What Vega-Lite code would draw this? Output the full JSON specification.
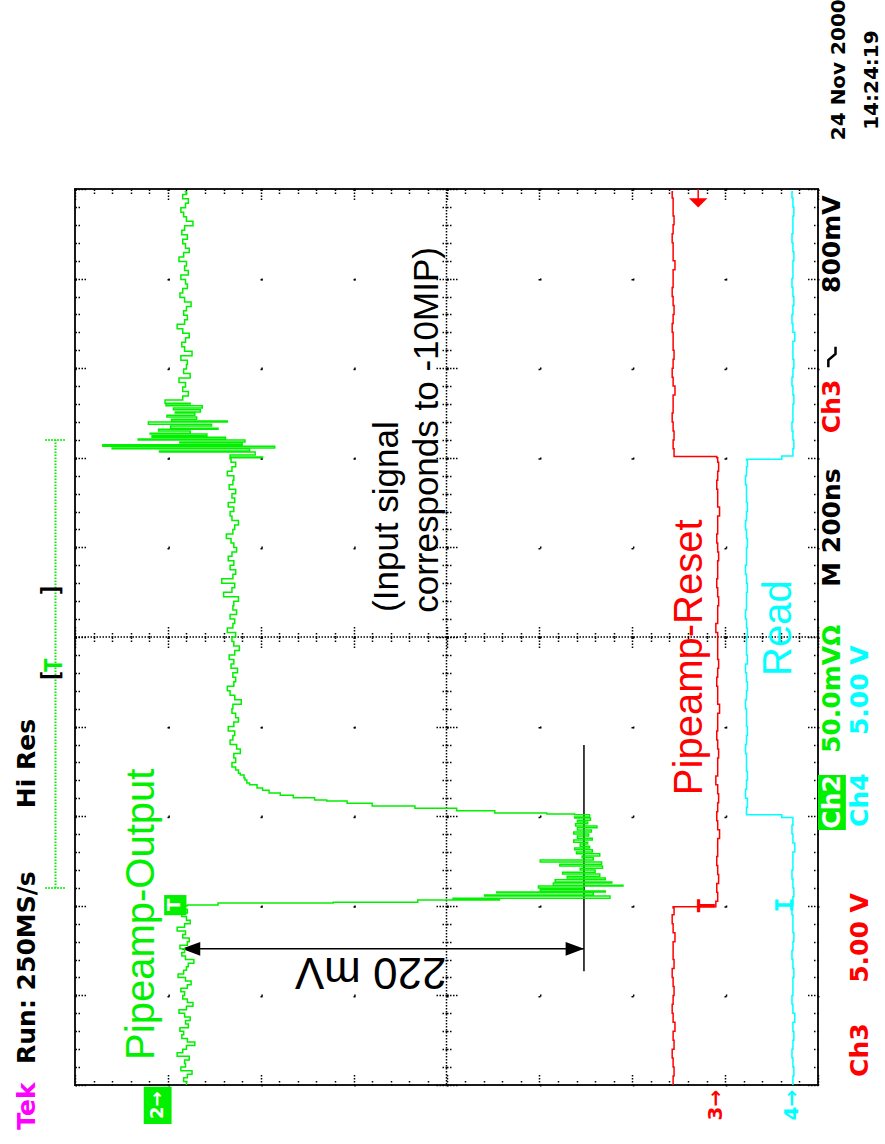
{
  "$schema": "https://vega.github.io/schema/vega-lite/v6.json",
  "description": "Oscilloscope capture (rotated): Pipeamp-Output (Ch2), Pipeamp-Reset (Ch3) and Read (Ch4). Vertical position in scope divisions, time in ns (200 ns/div).",
  "autosize": "none",
  "width": 743,
  "height": 896,
  "padding": {"left": 75, "top": 189, "right": 67, "bottom": 59},
  "background": "white",
  "view": {"stroke": "#1a1a1a", "strokeWidth": 2},
  "config": {"axis": {"labels": false, "title": null, "domain": false}},
  "resolve": {"axis": {"x": "independent", "y": "independent"}},
  "layer": [
    {
      "data": {"values": [{}]},
      "mark": {"type": "rule", "color": "#000", "strokeWidth": 1.5, "strokeDash": [1.5, 1.5]},
      "encoding": {
        "x": {"datum": 0, "type": "quantitative", "scale": {"domain": [4, -4], "nice": false, "zero": false}, "axis": null}
      }
    },
    {
      "data": {"values": [{}]},
      "mark": {"type": "rule", "color": "#000", "strokeWidth": 1.5, "strokeDash": [1.5, 1.5]},
      "encoding": {
        "y": {"datum": 1000, "type": "quantitative", "scale": {"domain": [0, 2000], "nice": false, "zero": false}, "axis": null}
      }
    },
    {
      "data": {"values": [
        {"div": 4.21, "div2": 4.21, "ns": 440, "ns2": 1440},
        {"div": 4.32, "div2": 4.10, "ns": 440, "ns2": 440},
        {"div": 4.32, "div2": 4.10, "ns": 1440, "ns2": 1440}
      ]},
      "mark": {"type": "rule", "color": "#00f000", "strokeWidth": 2, "strokeDash": [1.5, 1.5]},
      "encoding": {
        "x": {"field": "div", "type": "quantitative", "scale": {"domain": [4, -4], "nice": false, "zero": false},
          "axis": {"orient": "bottom", "offset": -448, "grid": false,
            "values": [-4,-3.8,-3.6,-3.4,-3.2,-3,-2.8,-2.6,-2.4,-2.2,-2,-1.8,-1.6,-1.4,-1.2,-1,-0.8,-0.6,-0.4,-0.2,0,0.2,0.4,0.6,0.8,1,1.2,1.4,1.6,1.8,2,2.2,2.4,2.6,2.8,3,3.2,3.4,3.6,3.8,4],
            "tickColor": "#000", "tickWidth": 1.5, "tickDash": [1.5, 1.5],
            "tickSize": {"condition": {"test": "abs(datum.value - round(datum.value)) < 0.01", "value": 12}, "value": 5}}},
        "x2": {"field": "div2"},
        "y": {"field": "ns", "type": "quantitative", "scale": {"domain": [0, 2000], "nice": false, "zero": false},
          "axis": {"orient": "left", "offset": -371.5, "grid": false,
            "values": [0,40,80,120,160,200,240,280,320,360,400,440,480,520,560,600,640,680,720,760,800,840,880,920,960,1000,1040,1080,1120,1160,1200,1240,1280,1320,1360,1400,1440,1480,1520,1560,1600,1640,1680,1720,1760,1800,1840,1880,1920,1960,2000],
            "tickColor": "#000", "tickWidth": 1.5, "tickDash": [1.5, 1.5],
            "tickSize": {"condition": {"test": "datum.value % 200 === 0", "value": 12}, "value": 5}}},
        "y2": {"field": "ns2"}
      }
    },
    {
      "data": {"values": [
        {"channel": "scope", "div": 2.85, "div2": -1.48, "ns": 304, "ns2": 304},
        {"channel": "scope", "div": -1.48, "div2": -1.48, "ns": 254, "ns2": 759},
        {"channel": "Ch3", "div": -2.71, "div2": -2.71, "ns": 1975, "ns2": 2000}
      ]},
      "mark": {"type": "rule", "strokeWidth": 1.5},
      "encoding": {
        "x": {"field": "div", "type": "quantitative", "scale": {"domain": [4, -4], "nice": false, "zero": false},
          "axis": {"orient": "top", "grid": false,
            "values": [-4,-3.8,-3.6,-3.4,-3.2,-3,-2.8,-2.6,-2.4,-2.2,-2,-1.8,-1.6,-1.4,-1.2,-1,-0.8,-0.6,-0.4,-0.2,0,0.2,0.4,0.6,0.8,1,1.2,1.4,1.6,1.8,2,2.2,2.4,2.6,2.8,3,3.2,3.4,3.6,3.8,4],
            "tickColor": "#000", "tickWidth": 1.5, "tickDash": [1.5, 1.5],
            "tickSize": {"condition": {"test": "abs(datum.value - round(datum.value)) < 0.01", "value": -11}, "value": -6}}},
        "x2": {"field": "div2"},
        "y": {"field": "ns", "type": "quantitative", "scale": {"domain": [0, 2000], "nice": false, "zero": false},
          "axis": {"orient": "right", "grid": false,
            "values": [0,40,80,120,160,200,240,280,320,360,400,440,480,520,560,600,640,680,720,760,800,840,880,920,960,1000,1040,1080,1120,1160,1200,1240,1280,1320,1360,1400,1440,1480,1520,1560,1600,1640,1680,1720,1760,1800,1840,1880,1920,1960,2000],
            "tickColor": "#000", "tickWidth": 1.5, "tickDash": [1.5, 1.5],
            "tickSize": {"condition": {"test": "datum.value % 200 === 0", "value": -11}, "value": -6}}},
        "y2": {"field": "ns2"},
        "color": {"field": "channel", "type": "nominal", "legend": null,
          "scale": {"domain": ["Ch2", "Ch3", "Ch4", "brand", "scope"], "range": ["#00f000", "#ff0000", "#00ffff", "#ff00ff", "#000000"]}}
      }
    },
    {
      "data": {"values": [
        {"end": "left", "channel": "scope", "div": 2.751, "ns": 304},
        {"end": "right", "channel": "scope", "div": -1.382, "ns": 304},
        {"end": "down", "channel": "Ch3", "div": -2.71, "ns": 1969}
      ]},
      "mark": {"type": "point", "filled": true, "opacity": 1, "size": 340},
      "encoding": {
        "x": {"field": "div", "type": "quantitative", "scale": {"domain": [4, -4], "nice": false, "zero": false},
          "axis": {"orient": "top", "offset": -448, "grid": false,
            "values": [-4,-3.8,-3.6,-3.4,-3.2,-3,-2.8,-2.6,-2.4,-2.2,-2,-1.8,-1.6,-1.4,-1.2,-1,-0.8,-0.6,-0.4,-0.2,0,0.2,0.4,0.6,0.8,1,1.2,1.4,1.6,1.8,2,2.2,2.4,2.6,2.8,3,3.2,3.4,3.6,3.8,4],
            "tickColor": "#000", "tickWidth": 1.5, "tickDash": [1.5, 1.5],
            "tickSize": {"condition": {"test": "abs(datum.value - round(datum.value)) < 0.01", "value": 12}, "value": 5}}},
        "y": {"field": "ns", "type": "quantitative", "scale": {"domain": [0, 2000], "nice": false, "zero": false},
          "axis": {"orient": "right", "offset": -371.5, "grid": false,
            "values": [0,40,80,120,160,200,240,280,320,360,400,440,480,520,560,600,640,680,720,760,800,840,880,920,960,1000,1040,1080,1120,1160,1200,1240,1280,1320,1360,1400,1440,1480,1520,1560,1600,1640,1680,1720,1760,1800,1840,1880,1920,1960,2000],
            "tickColor": "#000", "tickWidth": 1.5, "tickDash": [1.5, 1.5],
            "tickSize": {"condition": {"test": "datum.value % 200 === 0", "value": 12}, "value": 5}}},
        "shape": {"field": "end", "type": "nominal", "legend": null,
          "scale": {"domain": ["left", "right", "down"], "range": ["M1,-0.75L-1,0L1,0.75Z", "M-1,-0.75L1,0L-1,0.75Z", "M-1,-0.5L1,-0.5L0,0.5Z"]}},
        "color": {"field": "channel", "type": "nominal", "legend": null,
          "scale": {"domain": ["Ch2", "Ch3", "Ch4", "brand", "scope"], "range": ["#00f000", "#ff0000", "#00ffff", "#ff00ff", "#000000"]}}
      }
    },
    {
      "data": {"values": [
        {"readout": "trigger slope (falling)", "div": -4.15, "ns": 1625}
      ]},
      "mark": {"type": "point", "filled": false, "opacity": 1, "size": 420, "stroke": "#000", "strokeWidth": 2.5,
        "shape": "M-0.35,1L-0.35,0.3L0.35,-0.3L0.35,-1"},
      "encoding": {
        "x": {"field": "div", "type": "quantitative", "scale": {"domain": [4, -4], "nice": false, "zero": false}, "axis": null},
        "y": {"field": "ns", "type": "quantitative", "scale": {"domain": [0, 2000], "nice": false, "zero": false}, "axis": null}
      }
    },
    {
      "data": {"values": [
        {"channel": "Ch2", "div": -4.0, "div2": -4.3, "ns": 569, "ns2": 692},
        {"channel": "Ch2", "div": 3.26, "div2": 2.96, "ns": -87, "ns2": -4},
        {"channel": "Ch2", "div": 3.04, "div2": 2.80, "ns": 379, "ns2": 424}
      ]},
      "mark": {"type": "rect"},
      "encoding": {
        "x": {"field": "div", "type": "quantitative", "scale": {"domain": [4, -4], "nice": false, "zero": false}, "axis": null},
        "x2": {"field": "div2"},
        "y": {"field": "ns", "type": "quantitative", "scale": {"domain": [0, 2000], "nice": false, "zero": false}, "axis": null},
        "y2": {"field": "ns2"},
        "color": {"field": "channel", "type": "nominal", "legend": null,
          "scale": {"domain": ["Ch2", "Ch3", "Ch4", "brand", "scope"], "range": ["#00f000", "#ff0000", "#00ffff", "#ff00ff", "#000000"]}}
      }
    },
    {
      "data": {"values": [
        {"channel":"Ch2","ns":0,"div":2.80},{"channel":"Ch2","ns":8,"div":2.83},{"channel":"Ch2","ns":16,"div":2.79},{"channel":"Ch2","ns":24,"div":2.74},
        {"channel":"Ch2","ns":32,"div":2.86},{"channel":"Ch2","ns":40,"div":2.81},{"channel":"Ch2","ns":48,"div":2.82},{"channel":"Ch2","ns":56,"div":2.77},
        {"channel":"Ch2","ns":64,"div":2.90},{"channel":"Ch2","ns":72,"div":2.84},{"channel":"Ch2","ns":80,"div":2.80},{"channel":"Ch2","ns":88,"div":2.71},
        {"channel":"Ch2","ns":96,"div":2.79},{"channel":"Ch2","ns":104,"div":2.85},{"channel":"Ch2","ns":112,"div":2.83},{"channel":"Ch2","ns":120,"div":2.87},
        {"channel":"Ch2","ns":128,"div":2.78},{"channel":"Ch2","ns":136,"div":2.81},{"channel":"Ch2","ns":144,"div":2.76},{"channel":"Ch2","ns":152,"div":2.82},
        {"channel":"Ch2","ns":160,"div":2.88},{"channel":"Ch2","ns":168,"div":2.80},{"channel":"Ch2","ns":176,"div":2.73},{"channel":"Ch2","ns":184,"div":2.79},
        {"channel":"Ch2","ns":192,"div":2.84},{"channel":"Ch2","ns":200,"div":2.82},{"channel":"Ch2","ns":208,"div":2.86},{"channel":"Ch2","ns":216,"div":2.79},
        {"channel":"Ch2","ns":224,"div":2.75},{"channel":"Ch2","ns":232,"div":2.81},{"channel":"Ch2","ns":240,"div":2.89},{"channel":"Ch2","ns":248,"div":2.83},
        {"channel":"Ch2","ns":256,"div":2.80},{"channel":"Ch2","ns":264,"div":2.78},{"channel":"Ch2","ns":272,"div":2.72},{"channel":"Ch2","ns":280,"div":2.81},
        {"channel":"Ch2","ns":288,"div":2.85},{"channel":"Ch2","ns":296,"div":2.82},{"channel":"Ch2","ns":304,"div":2.87},{"channel":"Ch2","ns":312,"div":2.79},
        {"channel":"Ch2","ns":320,"div":2.77},{"channel":"Ch2","ns":328,"div":2.84},{"channel":"Ch2","ns":336,"div":2.81},{"channel":"Ch2","ns":344,"div":2.90},
        {"channel":"Ch2","ns":352,"div":2.82},{"channel":"Ch2","ns":360,"div":2.76},{"channel":"Ch2","ns":368,"div":2.80},{"channel":"Ch2","ns":376,"div":2.85},
        {"channel":"Ch2","ns":384,"div":2.79},{"channel":"Ch2","ns":392,"div":2.83},{"channel":"Ch2","ns":398,"div":2.82},
        {"channel":"Ch2","ns":400,"div":2.79},{"channel":"Ch2","ns":402,"div":2.46},{"channel":"Ch2","ns":406,"div":1.22},{"channel":"Ch2","ns":408,"div":0.31},
        {"channel":"Ch2","ns":413,"div":-0.57},{"channel":"Ch2","ns":415,"div":-0.07},{"channel":"Ch2","ns":417,"div":-1.76},{"channel":"Ch2","ns":422,"div":-0.41},
        {"channel":"Ch2","ns":424,"div":-1.58},{"channel":"Ch2","ns":429,"div":-0.54},{"channel":"Ch2","ns":431,"div":-1.71},{"channel":"Ch2","ns":433,"div":-1.01},
        {"channel":"Ch2","ns":437,"div":-1.47},{"channel":"Ch2","ns":440,"div":-0.99},{"channel":"Ch2","ns":444,"div":-1.90},{"channel":"Ch2","ns":446,"div":-1.15},
        {"channel":"Ch2","ns":451,"div":-1.78},{"channel":"Ch2","ns":453,"div":-1.17},{"channel":"Ch2","ns":458,"div":-1.71},{"channel":"Ch2","ns":462,"div":-1.30},
        {"channel":"Ch2","ns":466,"div":-1.65},{"channel":"Ch2","ns":471,"div":-1.25},{"channel":"Ch2","ns":475,"div":-1.60},{"channel":"Ch2","ns":480,"div":-1.44},
        {"channel":"Ch2","ns":484,"div":-1.68},{"channel":"Ch2","ns":489,"div":-1.22},{"channel":"Ch2","ns":493,"div":-1.67},{"channel":"Ch2","ns":498,"div":-1.01},
        {"channel":"Ch2","ns":502,"div":-1.58},{"channel":"Ch2","ns":507,"div":-1.46},{"channel":"Ch2","ns":511,"div":-1.65},{"channel":"Ch2","ns":516,"div":-1.40},
        {"channel":"Ch2","ns":520,"div":-1.57},{"channel":"Ch2","ns":525,"div":-1.38},{"channel":"Ch2","ns":529,"div":-1.54},{"channel":"Ch2","ns":533,"div":-1.44},
        {"channel":"Ch2","ns":538,"div":-1.52},{"channel":"Ch2","ns":542,"div":-1.37},{"channel":"Ch2","ns":547,"div":-1.57},{"channel":"Ch2","ns":551,"div":-1.41},
        {"channel":"Ch2","ns":556,"div":-1.53},{"channel":"Ch2","ns":560,"div":-1.37},{"channel":"Ch2","ns":565,"div":-1.56},{"channel":"Ch2","ns":569,"div":-1.41},
        {"channel":"Ch2","ns":574,"div":-1.62},{"channel":"Ch2","ns":578,"div":-1.39},{"channel":"Ch2","ns":583,"div":-1.52},{"channel":"Ch2","ns":587,"div":-1.41},
        {"channel":"Ch2","ns":591,"div":-1.55},{"channel":"Ch2","ns":596,"div":-1.38},{"channel":"Ch2","ns":598,"div":-1.54},{"channel":"Ch2","ns":603,"div":-1.38},
        {"channel":"Ch2","ns":605,"div":-1.08},{"channel":"Ch2","ns":607,"div":-0.52},{"channel":"Ch2","ns":612,"div":-0.11},{"channel":"Ch2","ns":618,"div":0.34},
        {"channel":"Ch2","ns":623,"div":0.80},{"channel":"Ch2","ns":629,"div":1.07},{"channel":"Ch2","ns":634,"div":1.29},{"channel":"Ch2","ns":636,"div":1.42},
        {"channel":"Ch2","ns":641,"div":1.65},{"channel":"Ch2","ns":647,"div":1.79},{"channel":"Ch2","ns":652,"div":1.91},{"channel":"Ch2","ns":658,"div":1.98},
        {"channel":"Ch2","ns":663,"div":2.04},{"channel":"Ch2","ns":670,"div":2.12},{"channel":"Ch2","ns":674,"div":2.15},{"channel":"Ch2","ns":681,"div":2.17},
        {"channel":"Ch2","ns":685,"div":2.18},{"channel":"Ch2","ns":692,"div":2.22},{"channel":"Ch2","ns":696,"div":2.24},{"channel":"Ch2","ns":703,"div":2.27},
        {"channel":"Ch2","ns":710,"div":2.31},{"channel":"Ch2","ns":720,"div":2.27},{"channel":"Ch2","ns":730,"div":2.29},{"channel":"Ch2","ns":740,"div":2.22},
        {"channel":"Ch2","ns":750,"div":2.26},{"channel":"Ch2","ns":760,"div":2.33},{"channel":"Ch2","ns":770,"div":2.30},{"channel":"Ch2","ns":780,"div":2.28},
        {"channel":"Ch2","ns":790,"div":2.35},{"channel":"Ch2","ns":800,"div":2.29},{"channel":"Ch2","ns":810,"div":2.24},{"channel":"Ch2","ns":820,"div":2.27},
        {"channel":"Ch2","ns":830,"div":2.31},{"channel":"Ch2","ns":840,"div":2.30},{"channel":"Ch2","ns":850,"div":2.21},{"channel":"Ch2","ns":860,"div":2.28},
        {"channel":"Ch2","ns":870,"div":2.33},{"channel":"Ch2","ns":880,"div":2.36},{"channel":"Ch2","ns":890,"div":2.29},{"channel":"Ch2","ns":900,"div":2.27},
        {"channel":"Ch2","ns":910,"div":2.30},{"channel":"Ch2","ns":920,"div":2.25},{"channel":"Ch2","ns":930,"div":2.32},{"channel":"Ch2","ns":940,"div":2.29},
        {"channel":"Ch2","ns":950,"div":2.34},{"channel":"Ch2","ns":960,"div":2.28},{"channel":"Ch2","ns":970,"div":2.23},{"channel":"Ch2","ns":980,"div":2.29},
        {"channel":"Ch2","ns":990,"div":2.31},{"channel":"Ch2","ns":1000,"div":2.27},{"channel":"Ch2","ns":1010,"div":2.36},{"channel":"Ch2","ns":1020,"div":2.30},
        {"channel":"Ch2","ns":1030,"div":2.28},{"channel":"Ch2","ns":1040,"div":2.33},{"channel":"Ch2","ns":1050,"div":2.26},{"channel":"Ch2","ns":1060,"div":2.30},
        {"channel":"Ch2","ns":1070,"div":2.29},{"channel":"Ch2","ns":1080,"div":2.24},{"channel":"Ch2","ns":1090,"div":2.40},{"channel":"Ch2","ns":1100,"div":2.31},
        {"channel":"Ch2","ns":1110,"div":2.28},{"channel":"Ch2","ns":1120,"div":2.42},{"channel":"Ch2","ns":1130,"div":2.30},{"channel":"Ch2","ns":1140,"div":2.27},
        {"channel":"Ch2","ns":1150,"div":2.33},{"channel":"Ch2","ns":1160,"div":2.29},{"channel":"Ch2","ns":1170,"div":2.35},{"channel":"Ch2","ns":1180,"div":2.31},
        {"channel":"Ch2","ns":1190,"div":2.26},{"channel":"Ch2","ns":1200,"div":2.29},{"channel":"Ch2","ns":1210,"div":2.32},{"channel":"Ch2","ns":1220,"div":2.37},
        {"channel":"Ch2","ns":1230,"div":2.30},{"channel":"Ch2","ns":1240,"div":2.28},{"channel":"Ch2","ns":1250,"div":2.24},{"channel":"Ch2","ns":1260,"div":2.31},
        {"channel":"Ch2","ns":1270,"div":2.33},{"channel":"Ch2","ns":1280,"div":2.29},{"channel":"Ch2","ns":1290,"div":2.35},{"channel":"Ch2","ns":1300,"div":2.28},
        {"channel":"Ch2","ns":1310,"div":2.31},{"channel":"Ch2","ns":1320,"div":2.27},{"channel":"Ch2","ns":1330,"div":2.34},{"channel":"Ch2","ns":1340,"div":2.30},
        {"channel":"Ch2","ns":1350,"div":2.29},{"channel":"Ch2","ns":1360,"div":2.36},{"channel":"Ch2","ns":1370,"div":2.31},{"channel":"Ch2","ns":1380,"div":2.27},
        {"channel":"Ch2","ns":1390,"div":2.32},{"channel":"Ch2","ns":1398,"div":2.33},
        {"channel":"Ch2","ns":1400,"div":1.98},{"channel":"Ch2","ns":1402,"div":2.33},{"channel":"Ch2","ns":1406,"div":2.06},{"channel":"Ch2","ns":1413,"div":3.09},
        {"channel":"Ch2","ns":1415,"div":2.12},{"channel":"Ch2","ns":1420,"div":3.60},{"channel":"Ch2","ns":1422,"div":1.85},{"channel":"Ch2","ns":1426,"div":3.70},
        {"channel":"Ch2","ns":1429,"div":2.20},{"channel":"Ch2","ns":1433,"div":2.87},{"channel":"Ch2","ns":1435,"div":2.17},{"channel":"Ch2","ns":1440,"div":3.32},
        {"channel":"Ch2","ns":1442,"div":2.38},{"channel":"Ch2","ns":1446,"div":3.17},{"channel":"Ch2","ns":1449,"div":2.58},{"channel":"Ch2","ns":1453,"div":3.19},
        {"channel":"Ch2","ns":1455,"div":2.76},{"channel":"Ch2","ns":1460,"div":3.10},{"channel":"Ch2","ns":1464,"div":2.46},{"channel":"Ch2","ns":1466,"div":2.97},
        {"channel":"Ch2","ns":1471,"div":2.53},{"channel":"Ch2","ns":1475,"div":3.21},{"channel":"Ch2","ns":1480,"div":2.36},{"channel":"Ch2","ns":1482,"div":2.96},
        {"channel":"Ch2","ns":1486,"div":2.69},{"channel":"Ch2","ns":1491,"div":3.01},{"channel":"Ch2","ns":1495,"div":2.71},{"channel":"Ch2","ns":1500,"div":2.92},
        {"channel":"Ch2","ns":1502,"div":2.65},{"channel":"Ch2","ns":1507,"div":2.94},{"channel":"Ch2","ns":1511,"div":2.63},{"channel":"Ch2","ns":1516,"div":3.02},
        {"channel":"Ch2","ns":1520,"div":2.76},{"channel":"Ch2","ns":1522,"div":3.03},{"channel":"Ch2","ns":1529,"div":2.84},
        {"channel":"Ch2","ns":1538,"div":2.78},{"channel":"Ch2","ns":1548,"div":2.84},{"channel":"Ch2","ns":1558,"div":2.81},{"channel":"Ch2","ns":1568,"div":2.88},
        {"channel":"Ch2","ns":1578,"div":2.76},{"channel":"Ch2","ns":1588,"div":2.83},{"channel":"Ch2","ns":1598,"div":2.80},{"channel":"Ch2","ns":1608,"div":2.79},
        {"channel":"Ch2","ns":1618,"div":2.86},{"channel":"Ch2","ns":1628,"div":2.74},{"channel":"Ch2","ns":1638,"div":2.82},{"channel":"Ch2","ns":1648,"div":2.85},
        {"channel":"Ch2","ns":1658,"div":2.81},{"channel":"Ch2","ns":1668,"div":2.77},{"channel":"Ch2","ns":1678,"div":2.84},{"channel":"Ch2","ns":1688,"div":2.90},
        {"channel":"Ch2","ns":1698,"div":2.82},{"channel":"Ch2","ns":1708,"div":2.79},{"channel":"Ch2","ns":1718,"div":2.83},{"channel":"Ch2","ns":1728,"div":2.80},
        {"channel":"Ch2","ns":1738,"div":2.75},{"channel":"Ch2","ns":1748,"div":2.82},{"channel":"Ch2","ns":1758,"div":2.87},{"channel":"Ch2","ns":1768,"div":2.84},
        {"channel":"Ch2","ns":1778,"div":2.79},{"channel":"Ch2","ns":1788,"div":2.81},{"channel":"Ch2","ns":1798,"div":2.86},{"channel":"Ch2","ns":1808,"div":2.78},
        {"channel":"Ch2","ns":1818,"div":2.82},{"channel":"Ch2","ns":1828,"div":2.80},{"channel":"Ch2","ns":1838,"div":2.88},{"channel":"Ch2","ns":1848,"div":2.83},
        {"channel":"Ch2","ns":1858,"div":2.77},{"channel":"Ch2","ns":1868,"div":2.81},{"channel":"Ch2","ns":1878,"div":2.84},{"channel":"Ch2","ns":1888,"div":2.79},
        {"channel":"Ch2","ns":1898,"div":2.85},{"channel":"Ch2","ns":1908,"div":2.82},{"channel":"Ch2","ns":1918,"div":2.73},{"channel":"Ch2","ns":1928,"div":2.80},
        {"channel":"Ch2","ns":1938,"div":2.83},{"channel":"Ch2","ns":1948,"div":2.86},{"channel":"Ch2","ns":1958,"div":2.81},{"channel":"Ch2","ns":1968,"div":2.78},
        {"channel":"Ch2","ns":1978,"div":2.84},{"channel":"Ch2","ns":1988,"div":2.80},{"channel":"Ch2","ns":1994,"div":2.82},

        {"channel":"Ch3","ns":0,"div":-2.44},{"channel":"Ch3","ns":20,"div":-2.45},{"channel":"Ch3","ns":40,"div":-2.44},{"channel":"Ch3","ns":60,"div":-2.43},
        {"channel":"Ch3","ns":80,"div":-2.45},{"channel":"Ch3","ns":100,"div":-2.44},{"channel":"Ch3","ns":120,"div":-2.46},{"channel":"Ch3","ns":140,"div":-2.44},
        {"channel":"Ch3","ns":160,"div":-2.43},{"channel":"Ch3","ns":180,"div":-2.44},{"channel":"Ch3","ns":200,"div":-2.45},{"channel":"Ch3","ns":220,"div":-2.44},
        {"channel":"Ch3","ns":240,"div":-2.43},{"channel":"Ch3","ns":260,"div":-2.45},{"channel":"Ch3","ns":280,"div":-2.44},{"channel":"Ch3","ns":300,"div":-2.44},
        {"channel":"Ch3","ns":320,"div":-2.46},{"channel":"Ch3","ns":340,"div":-2.44},{"channel":"Ch3","ns":360,"div":-2.43},{"channel":"Ch3","ns":380,"div":-2.45},
        {"channel":"Ch3","ns":395,"div":-2.44},{"channel":"Ch3","ns":398,"div":-2.90},
        {"channel":"Ch3","ns":410,"div":-2.92},{"channel":"Ch3","ns":430,"div":-2.91},{"channel":"Ch3","ns":450,"div":-2.93},{"channel":"Ch3","ns":470,"div":-2.92},
        {"channel":"Ch3","ns":490,"div":-2.91},{"channel":"Ch3","ns":510,"div":-2.92},{"channel":"Ch3","ns":530,"div":-2.92},{"channel":"Ch3","ns":550,"div":-2.94},
        {"channel":"Ch3","ns":570,"div":-2.92},{"channel":"Ch3","ns":590,"div":-2.91},{"channel":"Ch3","ns":610,"div":-2.92},{"channel":"Ch3","ns":630,"div":-2.93},
        {"channel":"Ch3","ns":650,"div":-2.92},{"channel":"Ch3","ns":670,"div":-2.90},{"channel":"Ch3","ns":690,"div":-2.92},{"channel":"Ch3","ns":710,"div":-2.92},
        {"channel":"Ch3","ns":730,"div":-2.93},{"channel":"Ch3","ns":750,"div":-2.92},{"channel":"Ch3","ns":770,"div":-2.91},{"channel":"Ch3","ns":790,"div":-2.92},
        {"channel":"Ch3","ns":810,"div":-2.92},{"channel":"Ch3","ns":830,"div":-2.94},{"channel":"Ch3","ns":850,"div":-2.92},{"channel":"Ch3","ns":870,"div":-2.92},
        {"channel":"Ch3","ns":890,"div":-2.91},{"channel":"Ch3","ns":910,"div":-2.92},{"channel":"Ch3","ns":930,"div":-2.93},{"channel":"Ch3","ns":950,"div":-2.92},
        {"channel":"Ch3","ns":970,"div":-2.92},{"channel":"Ch3","ns":990,"div":-2.92},{"channel":"Ch3","ns":1010,"div":-2.90},{"channel":"Ch3","ns":1030,"div":-2.92},
        {"channel":"Ch3","ns":1050,"div":-2.92},{"channel":"Ch3","ns":1070,"div":-2.93},{"channel":"Ch3","ns":1090,"div":-2.92},{"channel":"Ch3","ns":1110,"div":-2.91},
        {"channel":"Ch3","ns":1130,"div":-2.92},{"channel":"Ch3","ns":1150,"div":-2.92},{"channel":"Ch3","ns":1170,"div":-2.93},{"channel":"Ch3","ns":1190,"div":-2.92},
        {"channel":"Ch3","ns":1210,"div":-2.91},{"channel":"Ch3","ns":1230,"div":-2.92},{"channel":"Ch3","ns":1250,"div":-2.92},{"channel":"Ch3","ns":1270,"div":-2.94},
        {"channel":"Ch3","ns":1290,"div":-2.92},{"channel":"Ch3","ns":1310,"div":-2.92},{"channel":"Ch3","ns":1330,"div":-2.91},{"channel":"Ch3","ns":1350,"div":-2.92},
        {"channel":"Ch3","ns":1370,"div":-2.93},{"channel":"Ch3","ns":1390,"div":-2.92},{"channel":"Ch3","ns":1400,"div":-2.91},
        {"channel":"Ch3","ns":1403,"div":-2.45},{"channel":"Ch3","ns":1420,"div":-2.44},{"channel":"Ch3","ns":1440,"div":-2.45},{"channel":"Ch3","ns":1460,"div":-2.44},
        {"channel":"Ch3","ns":1480,"div":-2.43},{"channel":"Ch3","ns":1500,"div":-2.44},{"channel":"Ch3","ns":1520,"div":-2.44},{"channel":"Ch3","ns":1540,"div":-2.46},
        {"channel":"Ch3","ns":1560,"div":-2.44},{"channel":"Ch3","ns":1580,"div":-2.43},{"channel":"Ch3","ns":1600,"div":-2.44},{"channel":"Ch3","ns":1620,"div":-2.45},
        {"channel":"Ch3","ns":1640,"div":-2.44},{"channel":"Ch3","ns":1660,"div":-2.44},{"channel":"Ch3","ns":1680,"div":-2.43},{"channel":"Ch3","ns":1700,"div":-2.44},
        {"channel":"Ch3","ns":1720,"div":-2.45},{"channel":"Ch3","ns":1740,"div":-2.44},{"channel":"Ch3","ns":1760,"div":-2.43},{"channel":"Ch3","ns":1780,"div":-2.44},
        {"channel":"Ch3","ns":1800,"div":-2.44},{"channel":"Ch3","ns":1820,"div":-2.46},{"channel":"Ch3","ns":1840,"div":-2.44},{"channel":"Ch3","ns":1860,"div":-2.44},
        {"channel":"Ch3","ns":1880,"div":-2.43},{"channel":"Ch3","ns":1900,"div":-2.44},{"channel":"Ch3","ns":1920,"div":-2.45},{"channel":"Ch3","ns":1940,"div":-2.44},
        {"channel":"Ch3","ns":1960,"div":-2.44},{"channel":"Ch3","ns":1980,"div":-2.43},{"channel":"Ch3","ns":1994,"div":-2.44},

        {"channel":"Ch4","ns":0,"div":-3.73},{"channel":"Ch4","ns":20,"div":-3.74},{"channel":"Ch4","ns":40,"div":-3.73},{"channel":"Ch4","ns":60,"div":-3.72},
        {"channel":"Ch4","ns":80,"div":-3.73},{"channel":"Ch4","ns":100,"div":-3.74},{"channel":"Ch4","ns":120,"div":-3.73},{"channel":"Ch4","ns":140,"div":-3.75},
        {"channel":"Ch4","ns":160,"div":-3.73},{"channel":"Ch4","ns":180,"div":-3.72},{"channel":"Ch4","ns":200,"div":-3.73},{"channel":"Ch4","ns":220,"div":-3.73},
        {"channel":"Ch4","ns":240,"div":-3.74},{"channel":"Ch4","ns":260,"div":-3.73},{"channel":"Ch4","ns":280,"div":-3.72},{"channel":"Ch4","ns":300,"div":-3.73},
        {"channel":"Ch4","ns":320,"div":-3.74},{"channel":"Ch4","ns":340,"div":-3.73},{"channel":"Ch4","ns":360,"div":-3.73},{"channel":"Ch4","ns":380,"div":-3.72},
        {"channel":"Ch4","ns":400,"div":-3.73},{"channel":"Ch4","ns":420,"div":-3.74},{"channel":"Ch4","ns":440,"div":-3.73},{"channel":"Ch4","ns":460,"div":-3.72},
        {"channel":"Ch4","ns":480,"div":-3.73},{"channel":"Ch4","ns":500,"div":-3.73},{"channel":"Ch4","ns":520,"div":-3.75},{"channel":"Ch4","ns":540,"div":-3.73},
        {"channel":"Ch4","ns":560,"div":-3.72},{"channel":"Ch4","ns":580,"div":-3.73},{"channel":"Ch4","ns":594,"div":-3.73},
        {"channel":"Ch4","ns":597,"div":-3.61},{"channel":"Ch4","ns":603,"div":-3.23},
        {"channel":"Ch4","ns":620,"div":-3.24},{"channel":"Ch4","ns":640,"div":-3.22},{"channel":"Ch4","ns":660,"div":-3.23},{"channel":"Ch4","ns":680,"div":-3.24},
        {"channel":"Ch4","ns":700,"div":-3.23},{"channel":"Ch4","ns":720,"div":-3.23},{"channel":"Ch4","ns":740,"div":-3.22},{"channel":"Ch4","ns":760,"div":-3.23},
        {"channel":"Ch4","ns":780,"div":-3.24},{"channel":"Ch4","ns":800,"div":-3.23},{"channel":"Ch4","ns":820,"div":-3.23},{"channel":"Ch4","ns":840,"div":-3.22},
        {"channel":"Ch4","ns":860,"div":-3.23},{"channel":"Ch4","ns":880,"div":-3.24},{"channel":"Ch4","ns":900,"div":-3.23},{"channel":"Ch4","ns":920,"div":-3.22},
        {"channel":"Ch4","ns":940,"div":-3.24},{"channel":"Ch4","ns":960,"div":-3.23},{"channel":"Ch4","ns":980,"div":-3.23},{"channel":"Ch4","ns":1000,"div":-3.24},
        {"channel":"Ch4","ns":1020,"div":-3.23},{"channel":"Ch4","ns":1040,"div":-3.22},{"channel":"Ch4","ns":1060,"div":-3.23},{"channel":"Ch4","ns":1080,"div":-3.23},
        {"channel":"Ch4","ns":1100,"div":-3.24},{"channel":"Ch4","ns":1120,"div":-3.23},{"channel":"Ch4","ns":1140,"div":-3.22},{"channel":"Ch4","ns":1160,"div":-3.23},
        {"channel":"Ch4","ns":1180,"div":-3.23},{"channel":"Ch4","ns":1200,"div":-3.24},{"channel":"Ch4","ns":1220,"div":-3.23},{"channel":"Ch4","ns":1240,"div":-3.22},
        {"channel":"Ch4","ns":1260,"div":-3.23},{"channel":"Ch4","ns":1280,"div":-3.24},{"channel":"Ch4","ns":1300,"div":-3.23},{"channel":"Ch4","ns":1320,"div":-3.23},
        {"channel":"Ch4","ns":1340,"div":-3.22},{"channel":"Ch4","ns":1360,"div":-3.23},{"channel":"Ch4","ns":1380,"div":-3.24},{"channel":"Ch4","ns":1395,"div":-3.23},
        {"channel":"Ch4","ns":1397,"div":-3.61},{"channel":"Ch4","ns":1404,"div":-3.73},
        {"channel":"Ch4","ns":1420,"div":-3.74},{"channel":"Ch4","ns":1440,"div":-3.73},{"channel":"Ch4","ns":1460,"div":-3.72},{"channel":"Ch4","ns":1480,"div":-3.73},
        {"channel":"Ch4","ns":1500,"div":-3.73},{"channel":"Ch4","ns":1520,"div":-3.74},{"channel":"Ch4","ns":1540,"div":-3.73},{"channel":"Ch4","ns":1560,"div":-3.72},
        {"channel":"Ch4","ns":1580,"div":-3.73},{"channel":"Ch4","ns":1600,"div":-3.74},{"channel":"Ch4","ns":1620,"div":-3.73},{"channel":"Ch4","ns":1640,"div":-3.73},
        {"channel":"Ch4","ns":1660,"div":-3.75},{"channel":"Ch4","ns":1680,"div":-3.73},{"channel":"Ch4","ns":1700,"div":-3.72},{"channel":"Ch4","ns":1720,"div":-3.73},
        {"channel":"Ch4","ns":1740,"div":-3.74},{"channel":"Ch4","ns":1760,"div":-3.73},{"channel":"Ch4","ns":1780,"div":-3.72},{"channel":"Ch4","ns":1800,"div":-3.73},
        {"channel":"Ch4","ns":1820,"div":-3.73},{"channel":"Ch4","ns":1840,"div":-3.74},{"channel":"Ch4","ns":1860,"div":-3.73},{"channel":"Ch4","ns":1880,"div":-3.72},
        {"channel":"Ch4","ns":1900,"div":-3.73},{"channel":"Ch4","ns":1920,"div":-3.73},{"channel":"Ch4","ns":1940,"div":-3.74},{"channel":"Ch4","ns":1960,"div":-3.73},
        {"channel":"Ch4","ns":1980,"div":-3.72},{"channel":"Ch4","ns":1994,"div":-3.73}
      ]},
      "mark": {"type": "line", "strokeWidth": 1.5, "interpolate": "step-before"},
      "encoding": {
        "x": {"field": "div", "type": "quantitative", "scale": {"domain": [4, -4], "nice": false, "zero": false},
          "axis": {"orient": "bottom", "grid": true,
            "values": [-4,-3.8,-3.6,-3.4,-3.2,-3,-2.8,-2.6,-2.4,-2.2,-2,-1.8,-1.6,-1.4,-1.2,-1,-0.8,-0.6,-0.4,-0.2,0,0.2,0.4,0.6,0.8,1,1.2,1.4,1.6,1.8,2,2.2,2.4,2.6,2.8,3,3.2,3.4,3.6,3.8,4],
            "tickColor": "#000", "tickWidth": 1.5, "tickDash": [1.5, 1.5],
            "tickSize": {"condition": {"test": "abs(datum.value - round(datum.value)) < 0.01", "value": -11}, "value": -6},
            "gridColor": "#000", "gridWidth": 2, "gridDash": [1.5, 88.1],
            "gridOpacity": {"condition": {"test": "abs(datum.value - round(datum.value)) < 0.01", "value": 1}, "value": 0}}},
        "y": {"field": "ns", "type": "quantitative", "scale": {"domain": [0, 2000], "nice": false, "zero": false},
          "axis": {"orient": "left", "grid": true,
            "values": [0,40,80,120,160,200,240,280,320,360,400,440,480,520,560,600,640,680,720,760,800,840,880,920,960,1000,1040,1080,1120,1160,1200,1240,1280,1320,1360,1400,1440,1480,1520,1560,1600,1640,1680,1720,1760,1800,1840,1880,1920,1960,2000],
            "tickColor": "#000", "tickWidth": 1.5, "tickDash": [1.5, 1.5],
            "tickSize": {"condition": {"test": "datum.value % 200 === 0", "value": -11}, "value": -6},
            "gridColor": "#000", "gridWidth": 2, "gridDash": [1.5, 91.4],
            "gridOpacity": {"condition": {"test": "datum.value % 200 === 0", "value": 1}, "value": 0}}},
        "color": {"field": "channel", "type": "nominal", "legend": null,
          "scale": {"domain": ["Ch2", "Ch3", "Ch4", "brand", "scope"], "range": ["#00f000", "#ff0000", "#00ffff", "#ff00ff", "#000000"]}},
        "order": {"field": "ns", "type": "quantitative"}
      }
    },
    {
      "data": {"values": [
        {"label": "Tek", "channel": "brand", "ns": -100, "div": 4.43},
        {"label": "Run: 250MS/s", "channel": "scope", "ns": 47, "div": 4.43},
        {"label": "Hi Res", "channel": "scope", "ns": 618, "div": 4.43},
        {"label": "50.0mVΩ", "channel": "Ch2", "ns": 741, "div": -4.235},
        {"label": "M 200ns", "channel": "scope", "ns": 1112, "div": -4.235},
        {"label": "Ch3", "channel": "Ch3", "ns": 1455, "div": -4.235},
        {"label": "800mV", "channel": "scope", "ns": 1768, "div": -4.235},
        {"label": "Ch3", "channel": "Ch3", "ns": 18, "div": -4.535},
        {"label": "5.00 V", "channel": "Ch3", "ns": 228, "div": -4.535},
        {"label": "Ch4", "channel": "Ch4", "ns": 576, "div": -4.535},
        {"label": "5.00 V", "channel": "Ch4", "ns": 781, "div": -4.535}
      ]},
      "mark": {"type": "text", "angle": 270, "align": "left", "baseline": "alphabetic", "font": "DejaVu Sans", "fontWeight": "bold", "fontSize": 25},
      "encoding": {
        "x": {"field": "div", "type": "quantitative", "scale": {"domain": [4, -4], "nice": false, "zero": false}, "axis": null},
        "y": {"field": "ns", "type": "quantitative", "scale": {"domain": [0, 2000], "nice": false, "zero": false}, "axis": null},
        "text": {"field": "label"},
        "color": {"field": "channel", "type": "nominal", "legend": null,
          "scale": {"domain": ["Ch2", "Ch3", "Ch4", "brand", "scope"], "range": ["#00f000", "#ff0000", "#00ffff", "#ff00ff", "#000000"]}}
      }
    },
    {
      "data": {"values": [
        {"label": "24 Nov 2000", "ns": 2109, "div": -4.29},
        {"label": "14:24:19", "ns": 2132, "div": -4.645}
      ]},
      "mark": {"type": "text", "angle": 270, "align": "left", "baseline": "alphabetic", "font": "DejaVu Sans", "fontWeight": "bold", "fontSize": 20, "color": "#000"},
      "encoding": {
        "x": {"field": "div", "type": "quantitative", "scale": {"domain": [4, -4], "nice": false, "zero": false}, "axis": null},
        "y": {"field": "ns", "type": "quantitative", "scale": {"domain": [0, 2000], "nice": false, "zero": false}, "axis": null},
        "text": {"field": "label"}
      }
    },
    {
      "data": {"values": [
        {"label": "T", "channel": "Ch3", "ns": 400, "div": -2.89},
        {"label": "I", "channel": "Ch4", "ns": 402, "div": -3.73},
        {"label": "T", "channel": "Ch2", "ns": 937, "div": 4.14},
        {"label": "[", "channel": "scope", "ns": 913, "div": 4.17},
        {"label": "]", "channel": "scope", "ns": 1105, "div": 4.17}
      ]},
      "mark": {"type": "text", "angle": 270, "align": "center", "baseline": "alphabetic", "font": "DejaVu Sans Mono", "fontWeight": "bold", "fontSize": 25},
      "encoding": {
        "x": {"field": "div", "type": "quantitative", "scale": {"domain": [4, -4], "nice": false, "zero": false}, "axis": null},
        "y": {"field": "ns", "type": "quantitative", "scale": {"domain": [0, 2000], "nice": false, "zero": false}, "axis": null},
        "text": {"field": "label"},
        "color": {"field": "channel", "type": "nominal", "legend": null,
          "scale": {"domain": ["Ch2", "Ch3", "Ch4", "brand", "scope"], "range": ["#00f000", "#ff0000", "#00ffff", "#ff00ff", "#000000"]}}
      }
    },
    {
      "data": {"values": [
        {"label": "3→", "channel": "Ch3", "ns": -45, "div": -2.90},
        {"label": "4→", "channel": "Ch4", "ns": -45, "div": -3.72}
      ]},
      "mark": {"type": "text", "angle": 270, "align": "center", "baseline": "middle", "font": "DejaVu Sans", "fontWeight": "bold", "fontSize": 20},
      "encoding": {
        "x": {"field": "div", "type": "quantitative", "scale": {"domain": [4, -4], "nice": false, "zero": false}, "axis": null},
        "y": {"field": "ns", "type": "quantitative", "scale": {"domain": [0, 2000], "nice": false, "zero": false}, "axis": null},
        "text": {"field": "label"},
        "color": {"field": "channel", "type": "nominal", "legend": null,
          "scale": {"domain": ["Ch2", "Ch3", "Ch4", "brand", "scope"], "range": ["#00f000", "#ff0000", "#00ffff", "#ff00ff", "#000000"]}}
      }
    },
    {
      "data": {"values": [
        {"label": "2→", "ns": -45, "div": 3.11},
        {"label": "T", "ns": 402, "div": 2.92}
      ]},
      "mark": {"type": "text", "angle": 270, "align": "center", "baseline": "middle", "font": "DejaVu Sans", "fontWeight": "bold", "fontSize": 18, "color": "#ffffff"},
      "encoding": {
        "x": {"field": "div", "type": "quantitative", "scale": {"domain": [4, -4], "nice": false, "zero": false}, "axis": null},
        "y": {"field": "ns", "type": "quantitative", "scale": {"domain": [0, 2000], "nice": false, "zero": false}, "axis": null},
        "text": {"field": "label"}
      }
    },
    {
      "data": {"values": [
        {"label": "Ch2", "ns": 632, "div": -4.15}
      ]},
      "mark": {"type": "text", "angle": 270, "align": "center", "baseline": "middle", "font": "DejaVu Sans", "fontWeight": "bold", "fontSize": 25, "color": "#ffffff"},
      "encoding": {
        "x": {"field": "div", "type": "quantitative", "scale": {"domain": [4, -4], "nice": false, "zero": false}, "axis": null},
        "y": {"field": "ns", "type": "quantitative", "scale": {"domain": [0, 2000], "nice": false, "zero": false}, "axis": null},
        "text": {"field": "label"}
      }
    },
    {
      "data": {"values": [
        {"label": "Pipeamp-Output", "channel": "Ch2", "ns": 56, "div": 3.15},
        {"label": "Pipeamp-Reset", "channel": "Ch3", "ns": 647, "div": -2.75},
        {"label": "Read", "channel": "Ch4", "ns": 913, "div": -3.71}
      ]},
      "mark": {"type": "text", "angle": 270, "align": "left", "baseline": "alphabetic", "font": "Liberation Sans", "fontSize": 40},
      "encoding": {
        "x": {"field": "div", "type": "quantitative", "scale": {"domain": [4, -4], "nice": false, "zero": false}, "axis": null},
        "y": {"field": "ns", "type": "quantitative", "scale": {"domain": [0, 2000], "nice": false, "zero": false}, "axis": null},
        "text": {"field": "label"},
        "color": {"field": "channel", "type": "nominal", "legend": null,
          "scale": {"domain": ["Ch2", "Ch3", "Ch4", "brand", "scope"], "range": ["#00f000", "#ff0000", "#00ffff", "#ff00ff", "#000000"]}}
      }
    },
    {
      "data": {"values": [
        {"label": "(Input signal", "ns": 1056, "div": 0.52},
        {"label": "corresponds to -10MIP)", "ns": 1054, "div": 0.09}
      ]},
      "mark": {"type": "text", "angle": 270, "align": "left", "baseline": "alphabetic", "font": "Liberation Sans", "fontSize": 35, "color": "#000"},
      "encoding": {
        "x": {"field": "div", "type": "quantitative", "scale": {"domain": [4, -4], "nice": false, "zero": false}, "axis": null},
        "y": {"field": "ns", "type": "quantitative", "scale": {"domain": [0, 2000], "nice": false, "zero": false}, "axis": null},
        "text": {"field": "label"}
      }
    },
    {
      "data": {"values": [
        {"label": "220 mV", "ns": 283, "div": 0}
      ]},
      "mark": {"type": "text", "angle": 180, "align": "left", "baseline": "alphabetic", "font": "Liberation Sans", "fontSize": 44, "color": "#000"},
      "encoding": {
        "x": {"field": "div", "type": "quantitative", "scale": {"domain": [4, -4], "nice": false, "zero": false}, "axis": null},
        "y": {"field": "ns", "type": "quantitative", "scale": {"domain": [0, 2000], "nice": false, "zero": false}, "axis": null},
        "text": {"field": "label"}
      }
    }
  ]
}
